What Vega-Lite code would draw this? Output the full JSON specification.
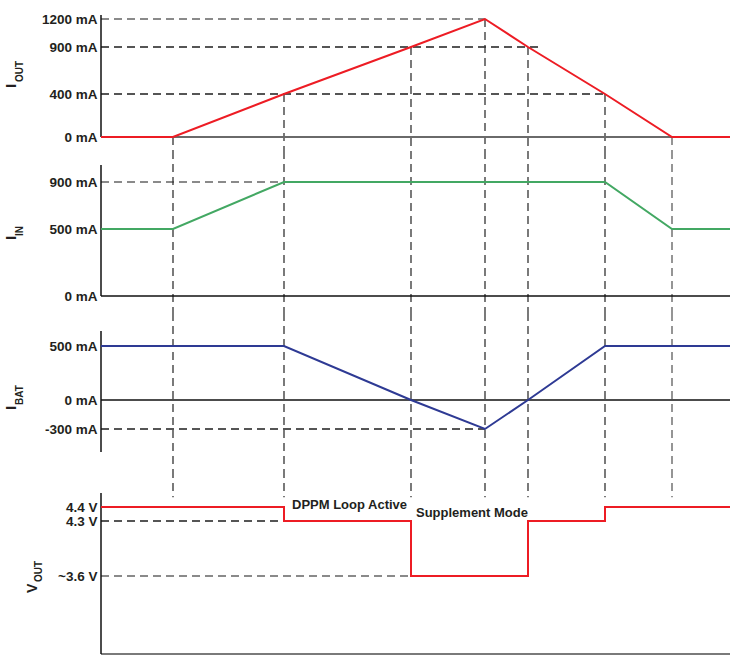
{
  "$schema": "https://vega.github.io/schema/vega-lite/v6.json",
  "padding": {"left": 3, "top": 12, "right": 2, "bottom": 2},
  "spacing": 0,
  "bounds": "flush",
  "datasets": {
    "iout": [{"t": 0, "v": 0}, {"t": 72, "v": 0}, {"t": 183, "v": 400}, {"t": 310, "v": 900}, {"t": 384, "v": 1200}, {"t": 427, "v": 900}, {"t": 504, "v": 400}, {"t": 571, "v": 0}, {"t": 629, "v": 0}],
    "iin": [{"t": 0, "v": 500}, {"t": 72, "v": 500}, {"t": 183, "v": 900}, {"t": 504, "v": 900}, {"t": 571, "v": 500}, {"t": 629, "v": 500}],
    "ibat": [{"t": 0, "v": 500}, {"t": 183, "v": 500}, {"t": 310, "v": 0}, {"t": 384, "v": -300}, {"t": 427, "v": 0}, {"t": 504, "v": 500}, {"t": 629, "v": 500}],
    "vout": [{"t": 0, "v": 4.4}, {"t": 183, "v": 4.3}, {"t": 310, "v": 3.6}, {"t": 427, "v": 4.3}, {"t": 504, "v": 4.4}, {"t": 629, "v": 4.4}],
    "ev1": [{"t": 72, "top": 0, "bot": -142}, {"t": 183, "top": 400, "bot": -142}, {"t": 310, "top": 900, "bot": -142}, {"t": 384, "top": 1200, "bot": -142}, {"t": 427, "top": 900, "bot": -142}, {"t": 504, "top": 400, "bot": -142}, {"t": 571, "top": 0, "bot": -142}],
    "ev": [{"t": 72}, {"t": 183}, {"t": 310}, {"t": 384}, {"t": 427}, {"t": 504}, {"t": 571}],
    "ev4": [{"t": 72, "top": 4.66, "bot": 4.47}, {"t": 183, "top": 4.66, "bot": 4.47}, {"t": 310, "top": 4.66, "bot": 4.47}, {"t": 384, "top": 4.66, "bot": 4.47}, {"t": 427, "top": 4.66, "bot": 4.47}, {"t": 504, "top": 4.66, "bot": 4.47}, {"t": 571, "top": 4.66, "bot": 4.47}],
    "g1": [{"v": 1200, "t1": 0, "t2": 384}, {"v": 900, "t1": 0, "t2": 442}, {"v": 400, "t1": 0, "t2": 504}],
    "g2": [{"v": 900, "t1": 0, "t2": 183}],
    "g3": [{"v": -300, "t1": 0, "t2": 384}],
    "g4": [{"v": 4.3, "t1": 0, "t2": 183}, {"v": 3.6, "t1": 0, "t2": 310}],
    "ax1": [{"top": 1240, "bot": 0}],
    "ax2": [{"top": 1045, "bot": 0}],
    "ax3": [{"top": 640, "bot": -540}],
    "ax4": [{"top": 4.5, "bot": 2.6}]
  },
  "vconcat": [
    {
      "width": 629, "height": 137,
      "layer": [
        {"data": {"name": "g1"}, "mark": {"type": "rule", "strokeDash": [8, 5]},
         "encoding": {"x": {"field": "t1", "type": "quantitative", "axis": null}, "x2": {"field": "t2"},
           "y": {"field": "v", "type": "quantitative", "axis": {"title": null, "orient": "left", "values": [0, 400, 900, 1200], "labelExpr": "datum.value + ' mA'"}},
           "color": {"condition": {"test": "datum.v == 1200", "value": "#8a8a8a"}, "value": "#1e1e1e"},
           "strokeWidth": {"condition": {"test": "datum.v == 1200", "value": 1.8}, "value": 1.3}}},
        {"data": {"name": "ev1"}, "mark": {"type": "rule", "strokeDash": [8, 5]},
         "encoding": {"x": {"field": "t", "type": "quantitative", "axis": null},
           "y": {"field": "top", "type": "quantitative", "axis": {"title": null, "orient": "left", "values": [0, 400, 900, 1200], "labelExpr": "datum.value + ' mA'"}}, "y2": {"field": "bot"},
           "color": {"condition": {"test": "datum.t == 571", "value": "#8a8a8a"}, "value": "#333333"},
           "strokeWidth": {"condition": {"test": "datum.t == 571", "value": 1.8}, "value": 1.3}}},
        {"data": {"values": [{}]}, "mark": {"type": "rule", "color": "#6a6a6a", "strokeWidth": 2},
         "encoding": {"y": {"datum": 0, "axis": {"title": null, "orient": "left", "values": [0, 400, 900, 1200], "labelExpr": "datum.value + ' mA'"}}}},
        {"data": {"name": "ax1"}, "mark": {"type": "rule", "color": "#111111", "strokeWidth": 1.5},
         "encoding": {"x": {"datum": 0, "axis": null},
           "y": {"field": "top", "type": "quantitative", "axis": {"title": null, "orient": "left", "values": [0, 400, 900, 1200], "labelExpr": "datum.value + ' mA'"}}, "y2": {"field": "bot"}}},
        {"data": {"name": "iout"}, "mark": {"type": "line", "color": "#ed1c24", "strokeWidth": 2},
         "encoding": {
           "x": {"field": "t", "type": "quantitative", "scale": {"domain": [0, 629], "nice": false, "zero": false}, "axis": null},
           "y": {"field": "v", "type": "quantitative", "scale": {"domain": [-142, 0, 400, 900, 1200, 1251], "range": [137, 123, 80, 33, 5, 0], "nice": false, "zero": false},
             "axis": {"title": null, "orient": "left", "values": [0, 400, 900, 1200], "labelExpr": "datum.value + ' mA'"}}}},
        {"data": {"values": [{}]}, "mark": {"type": "text", "text": "I", "angle": 270, "align": "left", "baseline": "alphabetic", "fontSize": 15},
         "encoding": {"x": {"datum": -85, "axis": null}, "y": {"datum": 464, "axis": {"title": null, "orient": "left", "values": [0, 400, 900, 1200], "labelExpr": "datum.value + ' mA'"}}}},
        {"data": {"values": [{}]}, "mark": {"type": "text", "text": "OUT", "angle": 270, "align": "left", "baseline": "alphabetic", "fontSize": 10},
         "encoding": {"x": {"datum": -78, "axis": null}, "y": {"datum": 528, "axis": {"title": null, "orient": "left", "values": [0, 400, 900, 1200], "labelExpr": "datum.value + ' mA'"}}}}
      ]
    },
    {
      "width": 629, "height": 162,
      "layer": [
        {"data": {"name": "g2"}, "mark": {"type": "rule", "strokeDash": [8, 5], "color": "#8a8a8a", "strokeWidth": 1.8},
         "encoding": {"x": {"field": "t1", "type": "quantitative", "axis": null}, "x2": {"field": "t2"},
           "y": {"field": "v", "type": "quantitative", "axis": {"title": null, "orient": "left", "values": [0, 500, 900], "labelExpr": "datum.value + ' mA'"}}}},
        {"data": {"name": "ev"}, "mark": {"type": "rule", "strokeDash": [8, 5]},
         "encoding": {"x": {"field": "t", "type": "quantitative", "axis": null},
           "color": {"condition": {"test": "datum.t == 571", "value": "#8a8a8a"}, "value": "#333333"},
           "strokeWidth": {"condition": {"test": "datum.t == 571", "value": 1.8}, "value": 1.3}}},
        {"data": {"values": [{}]}, "mark": {"type": "rule", "color": "#111111", "strokeWidth": 1.6},
         "encoding": {"y": {"datum": 0, "axis": {"title": null, "orient": "left", "values": [0, 500, 900], "labelExpr": "datum.value + ' mA'"}}}},
        {"data": {"name": "ax2"}, "mark": {"type": "rule", "color": "#111111", "strokeWidth": 1.5},
         "encoding": {"x": {"datum": 0, "axis": null},
           "y": {"field": "top", "type": "quantitative", "axis": {"title": null, "orient": "left", "values": [0, 500, 900], "labelExpr": "datum.value + ' mA'"}}, "y2": {"field": "bot"}}},
        {"data": {"name": "iin"}, "mark": {"type": "line", "color": "#43a863", "strokeWidth": 2},
         "encoding": {
           "x": {"field": "t", "type": "quantitative", "scale": {"domain": [0, 629], "nice": false, "zero": false}, "axis": null},
           "y": {"field": "v", "type": "quantitative", "scale": {"domain": [-150, 0, 500, 900, 1045, 1164], "range": [162, 145, 78, 31, 14, 0], "nice": false, "zero": false},
             "axis": {"title": null, "orient": "left", "values": [0, 500, 900], "labelExpr": "datum.value + ' mA'"}}}},
        {"data": {"values": [{}]}, "mark": {"type": "text", "text": "I", "angle": 270, "align": "left", "baseline": "alphabetic", "fontSize": 15},
         "encoding": {"x": {"datum": -85, "axis": null}, "y": {"datum": 418, "axis": {"title": null, "orient": "left", "values": [0, 500, 900], "labelExpr": "datum.value + ' mA'"}}}},
        {"data": {"values": [{}]}, "mark": {"type": "text", "text": "IN", "angle": 270, "align": "left", "baseline": "alphabetic", "fontSize": 10},
         "encoding": {"x": {"datum": -78, "axis": null}, "y": {"datum": 448, "axis": {"title": null, "orient": "left", "values": [0, 500, 900], "labelExpr": "datum.value + ' mA'"}}}}
      ]
    },
    {
      "width": 629, "height": 157,
      "layer": [
        {"data": {"name": "g3"}, "mark": {"type": "rule", "strokeDash": [8, 5], "color": "#1e1e1e", "strokeWidth": 1.3},
         "encoding": {"x": {"field": "t1", "type": "quantitative", "axis": null}, "x2": {"field": "t2"},
           "y": {"field": "v", "type": "quantitative", "axis": {"title": null, "orient": "left", "values": [-300, 0, 500], "labelExpr": "datum.value + ' mA'"}}}},
        {"data": {"name": "ev"}, "mark": {"type": "rule", "strokeDash": [8, 5]},
         "encoding": {"x": {"field": "t", "type": "quantitative", "axis": null},
           "color": {"condition": {"test": "datum.t == 571", "value": "#8a8a8a"}, "value": "#333333"},
           "strokeWidth": {"condition": {"test": "datum.t == 571", "value": 1.8}, "value": 1.3}}},
        {"data": {"values": [{}]}, "mark": {"type": "rule", "color": "#111111", "strokeWidth": 1.4},
         "encoding": {"y": {"datum": 0, "axis": {"title": null, "orient": "left", "values": [-300, 0, 500], "labelExpr": "datum.value + ' mA'"}}}},
        {"data": {"name": "ax3"}, "mark": {"type": "rule", "color": "#111111", "strokeWidth": 1.5},
         "encoding": {"x": {"datum": 0, "axis": null},
           "y": {"field": "top", "type": "quantitative", "axis": {"title": null, "orient": "left", "values": [-300, 0, 500], "labelExpr": "datum.value + ' mA'"}}, "y2": {"field": "bot"}}},
        {"data": {"name": "ibat"}, "mark": {"type": "line", "color": "#2e3a94", "strokeWidth": 2},
         "encoding": {
           "x": {"field": "t", "type": "quantitative", "scale": {"domain": [0, 629], "nice": false, "zero": false}, "axis": null},
           "y": {"field": "v", "type": "quantitative", "scale": {"domain": [-720, -540, -300, 0, 500, 640, 807], "range": [157, 139, 116, 87, 33, 18, 0], "nice": false, "zero": false},
             "axis": {"title": null, "orient": "left", "values": [-300, 0, 500], "labelExpr": "datum.value + ' mA'"}}}},
        {"data": {"values": [{}]}, "mark": {"type": "text", "text": "I", "angle": 270, "align": "left", "baseline": "alphabetic", "fontSize": 15},
         "encoding": {"x": {"datum": -85, "axis": null}, "y": {"datum": -103, "axis": {"title": null, "orient": "left", "values": [-300, 0, 500], "labelExpr": "datum.value + ' mA'"}}}},
        {"data": {"values": [{}]}, "mark": {"type": "text", "text": "BAT", "angle": 270, "align": "left", "baseline": "alphabetic", "fontSize": 10},
         "encoding": {"x": {"datum": -78, "axis": null}, "y": {"datum": -52, "axis": {"title": null, "orient": "left", "values": [-300, 0, 500], "labelExpr": "datum.value + ' mA'"}}}}
      ]
    },
    {
      "width": 629, "height": 186,
      "layer": [
        {"data": {"name": "g4"}, "mark": {"type": "rule", "strokeDash": [8, 5]},
         "encoding": {"x": {"field": "t1", "type": "quantitative", "axis": null}, "x2": {"field": "t2"},
           "y": {"field": "v", "type": "quantitative", "axis": {"title": null, "orient": "left", "values": [3.6, 4.3, 4.4], "labelExpr": "datum.value == 3.6 ? '~3.6 V' : format(datum.value, '.1f') + ' V'"}},
           "color": {"condition": {"test": "datum.v == 3.6", "value": "#8a8a8a"}, "value": "#1e1e1e"},
           "strokeWidth": {"condition": {"test": "datum.v == 3.6", "value": 1.8}, "value": 1.3}}},
        {"data": {"name": "ev4"}, "mark": {"type": "rule", "strokeDash": [8, 5]},
         "encoding": {"x": {"field": "t", "type": "quantitative", "axis": null},
           "y": {"field": "top", "type": "quantitative", "axis": {"title": null, "orient": "left", "values": [3.6, 4.3, 4.4], "labelExpr": "datum.value == 3.6 ? '~3.6 V' : format(datum.value, '.1f') + ' V'"}}, "y2": {"field": "bot"},
           "color": {"condition": {"test": "datum.t == 571", "value": "#8a8a8a"}, "value": "#333333"},
           "strokeWidth": {"condition": {"test": "datum.t == 571", "value": 1.8}, "value": 1.3}}},
        {"data": {"values": [{}]}, "mark": {"type": "rule", "color": "#7a7a7a", "strokeWidth": 2},
         "encoding": {"y": {"datum": 2.6, "axis": {"title": null, "orient": "left", "values": [3.6, 4.3, 4.4], "labelExpr": "datum.value == 3.6 ? '~3.6 V' : format(datum.value, '.1f') + ' V'"}}}},
        {"data": {"name": "ax4"}, "mark": {"type": "rule", "color": "#111111", "strokeWidth": 1.5},
         "encoding": {"x": {"datum": 0, "axis": null},
           "y": {"field": "top", "type": "quantitative", "axis": {"title": null, "orient": "left", "values": [3.6, 4.3, 4.4], "labelExpr": "datum.value == 3.6 ? '~3.6 V' : format(datum.value, '.1f') + ' V'"}}, "y2": {"field": "bot"}}},
        {"data": {"name": "vout"}, "mark": {"type": "line", "color": "#ed1c24", "strokeWidth": 2, "interpolate": "step-after"},
         "encoding": {
           "x": {"field": "t", "type": "quantitative", "scale": {"domain": [0, 629], "nice": false, "zero": false}, "axis": null},
           "y": {"field": "v", "type": "quantitative", "scale": {"domain": [2.585, 2.6, 3.6, 4.3, 4.4, 4.5, 4.66], "range": [186, 184, 106, 51, 37, 23, 0], "nice": false, "zero": false},
             "axis": {"title": null, "orient": "left", "values": [3.6, 4.3, 4.4], "labelExpr": "datum.value == 3.6 ? '~3.6 V' : format(datum.value, '.1f') + ' V'"}}}},
        {"data": {"values": [{}]}, "mark": {"type": "text", "text": "DPPM Loop Active", "align": "left", "baseline": "middle", "fontSize": 13},
         "encoding": {"x": {"datum": 191, "axis": null}, "y": {"datum": 4.415, "axis": {"title": null, "orient": "left", "values": [3.6, 4.3, 4.4], "labelExpr": "datum.value == 3.6 ? '~3.6 V' : format(datum.value, '.1f') + ' V'"}}}},
        {"data": {"values": [{}]}, "mark": {"type": "text", "text": "Supplement Mode", "align": "left", "baseline": "middle", "fontSize": 13},
         "encoding": {"x": {"datum": 315, "axis": null}, "y": {"datum": 4.357, "axis": {"title": null, "orient": "left", "values": [3.6, 4.3, 4.4], "labelExpr": "datum.value == 3.6 ? '~3.6 V' : format(datum.value, '.1f') + ' V'"}}}},
        {"data": {"values": [{}]}, "mark": {"type": "text", "text": "V", "angle": 270, "align": "left", "baseline": "alphabetic", "fontSize": 14},
         "encoding": {"x": {"datum": -64, "axis": null}, "y": {"datum": 3.382, "axis": {"title": null, "orient": "left", "values": [3.6, 4.3, 4.4], "labelExpr": "datum.value == 3.6 ? '~3.6 V' : format(datum.value, '.1f') + ' V'"}}}},
        {"data": {"values": [{}]}, "mark": {"type": "text", "text": "OUT", "angle": 270, "align": "left", "baseline": "alphabetic", "fontSize": 10},
         "encoding": {"x": {"datum": -59, "axis": null}, "y": {"datum": 3.523, "axis": {"title": null, "orient": "left", "values": [3.6, 4.3, 4.4], "labelExpr": "datum.value == 3.6 ? '~3.6 V' : format(datum.value, '.1f') + ' V'"}}}}
      ]
    }
  ],
  "config": {
    "view": {"stroke": null},
    "axisY": {"domain": false, "ticks": false, "grid": false, "labelFont": "Liberation Sans", "labelFontSize": 13.5, "labelFontWeight": "bold", "labelColor": "#231f20", "labelPadding": 4},
    "text": {"font": "Liberation Sans", "fontWeight": "bold", "color": "#231f20"}
  }
}
